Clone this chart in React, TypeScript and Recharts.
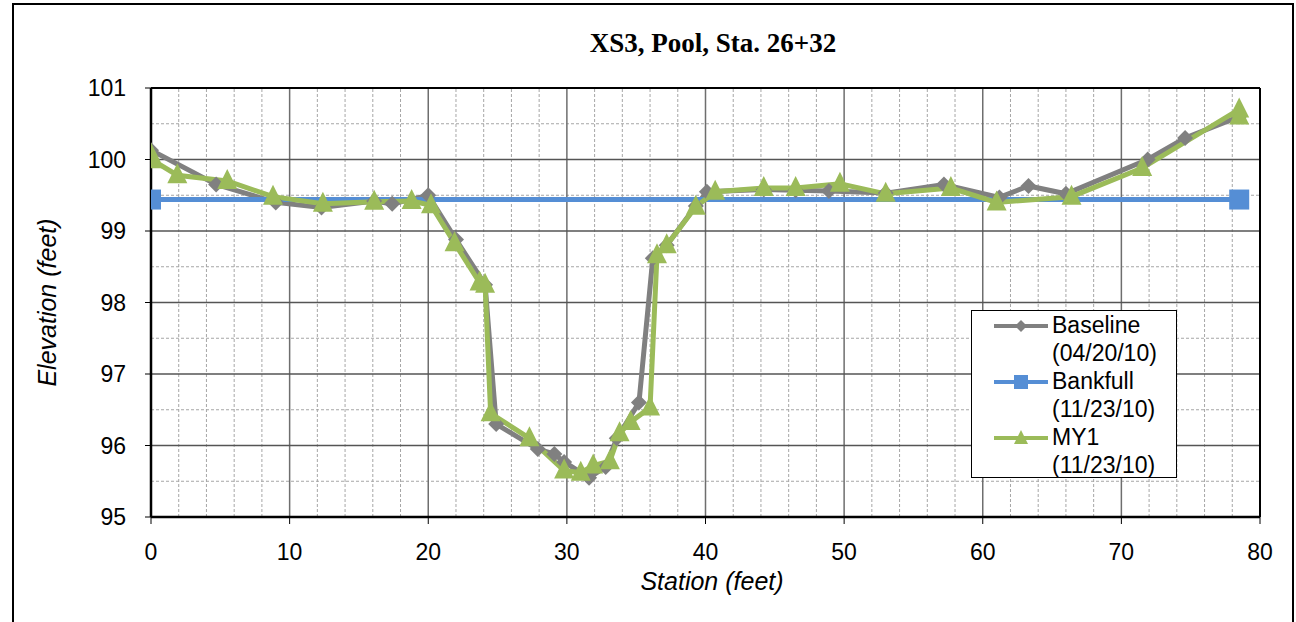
import { Line, LineChart, ReferenceLine, XAxis, YAxis } from "recharts";

// Station (ft) / elevation (ft) pairs
const baselineStation = [0, 4.7, 9.0, 12.3, 16.1, 17.4, 20.0, 22.0, 24.1, 24.9, 27.9, 29.1, 29.8, 31.6, 32.8, 33.6, 35.2, 36.2, 37.2, 39.3, 40.1, 44.2, 46.5, 48.9, 53.0, 57.2, 61.2, 63.3, 66.0, 71.9, 74.6, 78.5];
const baselineElev = [100.13, 99.65, 99.4, 99.33, 99.42, 99.38, 99.5, 98.88, 98.25, 96.3, 95.95, 95.88, 95.77, 95.55, 95.7, 96.1, 96.6, 98.62, 98.8, 99.35, 99.55, 99.58, 99.57, 99.56, 99.53, 99.65, 99.47, 99.63, 99.52, 100.0, 100.3, 100.6];

const bankfullStation = [0, 78.5];
const bankfullElev = [99.44, 99.44];

const my1Station = [0, 0.1, 1.9, 5.5, 8.8, 12.4, 16.1, 18.8, 20.2, 21.9, 23.7, 24.1, 24.5, 27.3, 29.8, 31.0, 31.9, 33.1, 33.8, 34.6, 36.0, 36.5, 37.2, 39.3, 40.7, 44.2, 46.5, 49.7, 53.0, 57.7, 61.0, 66.4, 71.5, 78.5, 78.5];
const my1Elev = [100.07, 99.99, 99.78, 99.7, 99.48, 99.38, 99.41, 99.42, 99.36, 98.83, 98.28, 98.25, 96.45, 96.1, 95.65, 95.62, 95.72, 95.78, 96.17, 96.33, 96.53, 98.66, 98.8, 99.34, 99.55, 99.6, 99.6, 99.66, 99.52, 99.6, 99.4, 99.48, 99.88, 100.7, 100.6];

const xTicks = [0, 10, 20, 30, 40, 50, 60, 70, 80];
const yTicks = [95, 96, 97, 98, 99, 100, 101];
const xMajorGrid = [10, 20, 30, 40, 50, 60, 70];
const xMinorGrid = [2, 4, 6, 8, 12, 14, 16, 18, 22, 24, 26, 28, 32, 34, 36, 38, 42, 44, 46, 48, 52, 54, 56, 58, 62, 64, 66, 68, 72, 74, 76, 78];
const yMajorGrid = [96, 97, 98, 99, 100];
const yMinorGrid = [95.5, 96.5, 97.5, 98.5, 99.5, 100.5];

const GRAY = "#808080";
const BLUE = "#558ed5";
const GREEN = "#9bbb59";
const SANS = "'Liberation Sans', Arial, sans-serif";

const toPoints = (xs: number[], ys: number[]) => xs.map((x, i) => ({ x, y: ys[i] }));

const baseline = toPoints(baselineStation, baselineElev);
const bankfull = toPoints(bankfullStation, bankfullElev);
const my1 = toPoints(my1Station, my1Elev);

function diamondPath(cx: number, cy: number, s = 8) {
  return `M${cx},${cy - s}L${cx + s},${cy}L${cx},${cy + s}L${cx - s},${cy}Z`;
}
function trianglePath(cx: number, cy: number, w = 10) {
  return `M${cx},${cy - 12}L${cx + w},${cy + 8}L${cx - w},${cy + 8}Z`;
}

const DiamondDot = (props: any) => {
  const { cx, cy, index } = props;
  if (cx == null || cy == null) return <g key={`d${index}`} />;
  return <path key={`d${index}`} d={diamondPath(cx, cy)} fill={GRAY} />;
};
const SquareDot = (props: any) => {
  const { cx, cy, index } = props;
  if (cx == null || cy == null) return <g key={`s${index}`} />;
  return <rect key={`s${index}`} x={cx - 10} y={cy - 10} width={20} height={20} fill={BLUE} />;
};
const TriangleDot = (props: any) => {
  const { cx, cy, index } = props;
  if (cx == null || cy == null) return <g key={`t${index}`} />;
  return <path key={`t${index}`} d={trianglePath(cx, cy)} fill={GREEN} />;
};

const legendItems = [
  { name: "Baseline", date: "(04/20/10)", color: GRAY, marker: "diamond" },
  { name: "Bankfull", date: "(11/23/10)", color: BLUE, marker: "square" },
  { name: "MY1", date: "(11/23/10)", color: GREEN, marker: "triangle" },
];

function Swatch({ color, marker }: { color: string; marker: string }) {
  return (
    <svg width={56} height={20} style={{ position: "absolute", left: 21, top: 5 }}>
      <line x1={1} y1={10} x2={55} y2={10} stroke={color} strokeWidth={4} />
      {marker === "diamond" && <path d={diamondPath(28, 10, 6)} fill={color} />}
      {marker === "square" && <rect x={21} y={3} width={14} height={14} fill={color} />}
      {marker === "triangle" && <path d={`M28,2L35,16L21,16Z`} fill={color} />}
    </svg>
  );
}

export default function App() {
  return (
    <div style={{ position: "absolute", left: 0, top: 0, width: 1296, height: 622, overflow: "hidden", background: "#fff" }}>
      <div style={{ position: "absolute", left: 12, top: 3, width: 1282, height: 660, border: "2px solid #000", boxSizing: "border-box" }} />
      <div
        style={{
          position: "absolute",
          left: 713,
          top: 30,
          transform: "translateX(-50%)",
          whiteSpace: "nowrap",
          fontFamily: "'Liberation Serif', 'Times New Roman', serif",
          fontWeight: "bold",
          fontSize: 27,
          lineHeight: "27px",
        }}
      >
        XS3, Pool, Sta. 26+32
      </div>
      <div
        style={{
          position: "absolute",
          left: 712,
          top: 569,
          transform: "translateX(-50%)",
          whiteSpace: "nowrap",
          fontFamily: SANS,
          fontStyle: "italic",
          fontSize: 25,
          lineHeight: "25px",
        }}
      >
        Station (feet)
      </div>
      <div
        style={{
          position: "absolute",
          left: 47 - 150,
          top: 302 - 12.5,
          width: 300,
          textAlign: "center",
          transform: "rotate(-90deg)",
          whiteSpace: "nowrap",
          fontFamily: SANS,
          fontStyle: "italic",
          fontSize: 25,
          lineHeight: "25px",
        }}
      >
        Elevation (feet)
      </div>

      <div style={{ position: "absolute", left: 0, top: 0 }}>
        <LineChart width={1296} height={622} margin={{ top: 88, right: 36, bottom: 65, left: 91 }}>
          <XAxis
            type="number"
            dataKey="x"
            domain={[0, 80]}
            ticks={xTicks}
            allowDataOverflow
            height={40}
            tickSize={7}
            tickMargin={20}
            tick={{ fontSize: 23, fill: "#000", fontFamily: SANS }}
            axisLine={{ stroke: "#000", strokeWidth: 2.5 }}
            tickLine={{ stroke: "#000", strokeWidth: 1 }}
          />
          <YAxis
            type="number"
            domain={[95, 101]}
            ticks={yTicks}
            allowDataOverflow
            width={60}
            tickSize={6}
            tickMargin={19}
            tick={{ fontSize: 23, fill: "#000", fontFamily: SANS }}
            axisLine={{ stroke: "#000", strokeWidth: 2.5 }}
            tickLine={{ stroke: "#000", strokeWidth: 1 }}
          />
          {xMinorGrid.map((v) => (
            <ReferenceLine key={`xm${v}`} x={v} stroke="#a6a6a6" strokeDasharray="3 2" strokeWidth={1} />
          ))}
          {yMinorGrid.map((v) => (
            <ReferenceLine key={`ym${v}`} y={v} stroke="#a6a6a6" strokeDasharray="3 2" strokeWidth={1} />
          ))}
          {xMajorGrid.map((v) => (
            <ReferenceLine key={`xM${v}`} x={v} stroke="#6e6e6e" strokeWidth={1.5} />
          ))}
          {yMajorGrid.map((v) => (
            <ReferenceLine key={`yM${v}`} y={v} stroke="#555" strokeWidth={1.5} />
          ))}
          <ReferenceLine y={101} stroke="#000" strokeWidth={2} />
          <ReferenceLine x={80} stroke="#000" strokeWidth={2} />

          <Line
            data={baseline}
            dataKey="y"
            type="linear"
            stroke={GRAY}
            strokeWidth={5}
            dot={DiamondDot}
            activeDot={false}
            isAnimationActive={false}
          />
          <Line
            data={bankfull}
            dataKey="y"
            type="linear"
            stroke={BLUE}
            strokeWidth={5}
            dot={SquareDot}
            activeDot={false}
            isAnimationActive={false}
          />
          <Line
            data={my1}
            dataKey="y"
            type="linear"
            stroke={GREEN}
            strokeWidth={5}
            dot={TriangleDot}
            activeDot={false}
            isAnimationActive={false}
          />
        </LineChart>
      </div>

      <div
        style={{
          position: "absolute",
          left: 971,
          top: 310,
          width: 206,
          height: 168,
          border: "1px solid #000",
          boxSizing: "border-box",
          background: "#fff",
          fontFamily: SANS,
          fontSize: 23,
          lineHeight: "28px",
        }}
      >
        {legendItems.map((it, i) => (
          <div key={it.name} style={{ position: "absolute", left: 0, top: i * 56, width: 204 }}>
            <Swatch color={it.color} marker={it.marker} />
            <div style={{ position: "absolute", left: 80, top: 0, whiteSpace: "nowrap" }}>
              {it.name}
              <br />
              {it.date}
            </div>
          </div>
        ))}
      </div>
    </div>
  );
}
